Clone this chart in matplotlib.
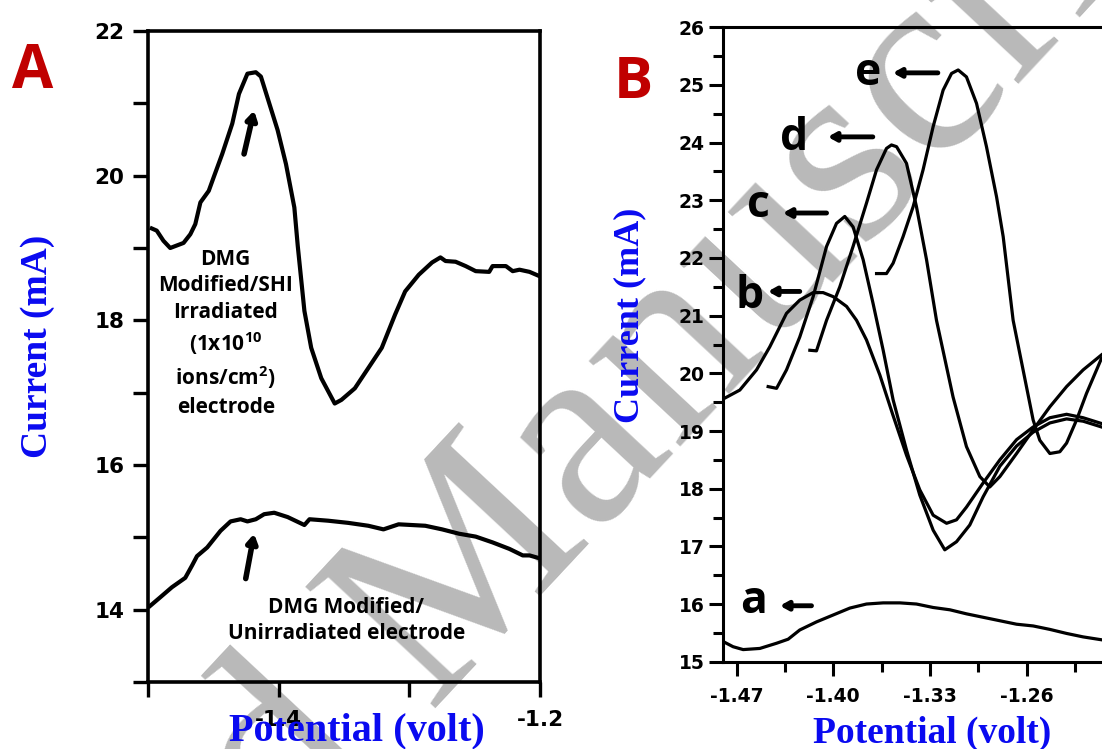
import matplotlib
matplotlib.use("Agg")
import matplotlib.pyplot as plt
from matplotlib.ticker import FixedLocator, NullFormatter

# ---------------- data ----------------
# Panel A: irradiated electrode (upper) and unirradiated electrode (lower)
a_irr_x = [-1.4971, -1.4933, -1.4882, -1.4830, -1.4728, -1.4676, -1.4638, -1.4599, -1.4535,
           -1.4497, -1.4432, -1.4355, -1.4304, -1.4239, -1.4175, -1.4136, -1.4072, -1.4008,
           -1.3944, -1.3880, -1.3854, -1.3803, -1.3751, -1.3674, -1.3571, -1.3520, -1.3417,
           -1.3314, -1.3211, -1.3109, -1.3032, -1.2928, -1.2826, -1.2762, -1.2723, -1.2646,
           -1.2569, -1.2492, -1.2389, -1.2363, -1.2261, -1.2209, -1.2157, -1.2080, -1.2003]
a_irr_y = [19.27, 19.24, 19.10, 19.00, 19.07, 19.19, 19.33, 19.63, 19.79,
           19.98, 20.30, 20.72, 21.13, 21.41, 21.43, 21.37, 21.00, 20.63,
           20.16, 19.56, 19.03, 18.13, 17.62, 17.20, 16.85, 16.90, 17.06,
           17.34, 17.62, 18.08, 18.40, 18.63, 18.80, 18.87, 18.82, 18.81,
           18.75, 18.68, 18.67, 18.75, 18.75, 18.68, 18.70, 18.67, 18.61]
a_unirr_x = [-1.4985, -1.4907, -1.4817, -1.4715, -1.4663, -1.4625, -1.4547, -1.4445, -1.4368,
             -1.4291, -1.4239, -1.4175, -1.4111, -1.4034, -1.3931, -1.3803, -1.3764, -1.3622,
             -1.3468, -1.3314, -1.3198, -1.3082, -1.2878, -1.2749, -1.2620, -1.2492, -1.2363,
             -1.2234, -1.2132, -1.2080, -1.2003]
a_unirr_y = [14.05, 14.17, 14.31, 14.44, 14.61, 14.74, 14.86, 15.09, 15.22,
             15.25, 15.22, 15.25, 15.32, 15.34, 15.28, 15.17, 15.25, 15.23,
             15.20, 15.16, 15.11, 15.18, 15.16, 15.11, 15.05, 15.01, 14.93,
             14.84, 14.75, 14.75, 14.71]

# Panel B: curves a-e
b_a_x = [-1.4797, -1.4725, -1.4652, -1.4531, -1.4410, -1.4326, -1.4242, -1.4121, -1.4000,
         -1.3879, -1.3759, -1.3638, -1.3517, -1.3397, -1.3276, -1.3155, -1.3035, -1.2914,
         -1.2793, -1.2672, -1.2552, -1.2431, -1.2310, -1.2190, -1.2057]
b_a_y = [15.35, 15.26, 15.21, 15.23, 15.32, 15.39, 15.55, 15.69, 15.81,
         15.93, 16.00, 16.02, 16.02, 16.00, 15.94, 15.90, 15.83, 15.77,
         15.71, 15.65, 15.62, 15.56, 15.49, 15.43, 15.38]
b_b_x = [-1.4785, -1.4676, -1.4555, -1.4459, -1.4338, -1.4242, -1.4145, -1.4073, -1.4000,
         -1.3903, -1.3831, -1.3759, -1.3662, -1.3568, -1.3469, -1.3373, -1.3276, -1.3179,
         -1.3107, -1.3035, -1.2914, -1.2793, -1.2672, -1.2552, -1.2431, -1.2310, -1.2190,
         -1.2057]
b_b_y = [19.57, 19.71, 20.06, 20.46, 21.04, 21.27, 21.40, 21.40, 21.33,
         21.16, 20.92, 20.58, 19.97, 19.28, 18.58, 17.98, 17.54, 17.40,
         17.46, 17.68, 18.10, 18.50, 18.85, 19.07, 19.23, 19.29, 19.23,
         19.13]
b_c_x = [-1.4471, -1.4410, -1.4338, -1.4242, -1.4145, -1.4048, -1.3976, -1.3916, -1.3856,
         -1.3783, -1.3711, -1.3638, -1.3566, -1.3469, -1.3373, -1.3276, -1.3192, -1.3107,
         -1.3011, -1.2914, -1.2793, -1.2672, -1.2552, -1.2431, -1.2310, -1.2190, -1.2057]
b_c_y = [19.77, 19.74, 20.06, 20.63, 21.33, 22.20, 22.60, 22.72, 22.54,
         21.97, 21.21, 20.40, 19.54, 18.67, 17.89, 17.28, 16.94, 17.08,
         17.37, 17.86, 18.39, 18.74, 18.98, 19.14, 19.21, 19.17, 19.07]
b_d_x = [-1.4169, -1.4121, -1.4048, -1.3952, -1.3856, -1.3759, -1.3686, -1.3614, -1.3578,
         -1.3541, -1.3469, -1.3397, -1.3324, -1.3252, -1.3132, -1.3035, -1.2938, -1.2866,
         -1.2793, -1.2672, -1.2552, -1.2431, -1.2310, -1.2190, -1.2057]
b_d_y = [20.40, 20.39, 20.92, 21.50, 22.20, 22.95, 23.53, 23.90, 23.96,
         23.93, 23.64, 22.89, 21.97, 20.92, 19.59, 18.73, 18.21, 18.03,
         18.21, 18.61, 19.02, 19.42, 19.77, 20.06, 20.32]
b_e_x = [-1.3686, -1.3614, -1.3566, -1.3494, -1.3421, -1.3349, -1.3276, -1.3204, -1.3143,
         -1.3095, -1.3035, -1.2962, -1.2890, -1.2817, -1.2769, -1.2697, -1.2552, -1.2504,
         -1.2431, -1.2359, -1.2310, -1.2238, -1.2166, -1.2057]
b_e_y = [21.73, 21.73, 21.91, 22.37, 22.89, 23.53, 24.28, 24.91, 25.20,
         25.26, 25.14, 24.68, 23.93, 23.06, 22.37, 20.92, 19.19, 18.84,
         18.61, 18.64, 18.79, 19.19, 19.65, 20.26]

# ticks
a_xticks_major = [-1.4, -1.2]
a_xtick_labels = ["-1.4", "-1.2"]
a_xticks_minor = [-1.5, -1.3]
a_yticks_major = [14, 16, 18, 20, 22]
a_ytick_labels = ["14", "16", "18", "20", "22"]
a_yticks_minor = [13, 15, 17, 19, 21]
b_xticks_major = [-1.47, -1.40, -1.33, -1.26]
b_xtick_labels = ["-1.47", "-1.40", "-1.33", "-1.26"]
b_xticks_minor = [-1.435, -1.365, -1.295, -1.225]
b_yticks_major = [15, 16, 17, 18, 19, 20, 21, 22, 23, 24, 25, 26]
b_ytick_labels = ["15", "16", "17", "18", "19", "20", "21", "22", "23", "24", "25", "26"]
b_yticks_minor = [15.5, 16.5, 17.5, 18.5, 19.5, 20.5, 21.5, 22.5, 23.5, 24.5, 25.5]

# curve labels for panel B
b_letters = ["a", "b", "c", "d", "e"]

# ---------------- style ----------------
plt.rcParams['mathtext.fontset'] = 'custom'
plt.rcParams['mathtext.rm'] = 'Open Sans:bold'
plt.rcParams['mathtext.bf'] = 'Open Sans:bold'
plt.rcParams['mathtext.it'] = 'Open Sans:bold'

W, H = 1102, 749
fig = plt.figure(figsize=(W / 100, H / 100), dpi=100)
fig.patch.set_facecolor('white')

def px_box(left, top, width, height):
    return [left / W, 1 - (top + height) / H, width / W, height / H]

BLUE = '#0a0af0'
RED = '#c00000'
serif = 'Liberation Serif'
tickfont = 'DejaVu Sans'
annot = 'Open Sans'

# ---------------- watermark (behind everything) ----------------
WM_ANGLE = 47
fig.text(428 / W, 1 - 708 / H, 'Manuscript', fontfamily=serif, fontsize=195,
         color='#b9b9b9', rotation=WM_ANGLE, rotation_mode='anchor',
         ha='left', va='baseline', zorder=-5)
fig.text(380 / W, 1 - 756 / H, 'Accepted', fontfamily=serif, fontsize=195,
         color='#b9b9b9', rotation=WM_ANGLE, rotation_mode='anchor',
         ha='right', va='baseline', zorder=-5)

# ---------------- Panel A ----------------
axA = fig.add_axes(px_box(148, 31, 392, 651))
axA.set_facecolor('none')
axA.plot(a_irr_x, a_irr_y, color='black', lw=3.0, solid_joinstyle='round', zorder=3)
axA.plot(a_unirr_x, a_unirr_y, color='black', lw=3.0, solid_joinstyle='round', zorder=3)
axA.set_xlim(-1.5, -1.2)
axA.set_ylim(13, 22)
axA.xaxis.set_major_locator(FixedLocator(a_xticks_major))
axA.xaxis.set_minor_locator(FixedLocator(a_xticks_minor))
axA.set_xticklabels(a_xtick_labels)
axA.yaxis.set_major_locator(FixedLocator(a_yticks_major))
axA.yaxis.set_minor_locator(FixedLocator(a_yticks_minor))
axA.set_yticklabels(a_ytick_labels)
axA.xaxis.set_minor_formatter(NullFormatter())
axA.yaxis.set_minor_formatter(NullFormatter())
axA.tick_params(which='both', direction='out', length=11, width=2.4, color='black')
axA.tick_params(axis='x', which='major', pad=9)
axA.tick_params(axis='y', which='major', pad=6)
for lab in axA.get_xticklabels() + axA.get_yticklabels():
    lab.set_fontfamily(tickfont)
    lab.set_fontweight('bold')
    lab.set_fontsize(15.5)
for sp in axA.spines.values():
    sp.set_linewidth(2.6)

axA.set_xlabel('Potential (volt)', fontfamily=serif, fontweight='bold', fontsize=29,
               color=BLUE, va='baseline')
axA.xaxis.set_label_coords(0.534, -0.089)
axA.set_ylabel('Current (mA)', fontfamily=serif, fontweight='bold', fontsize=27,
               color=BLUE, va='center')
axA.yaxis.set_label_coords(-0.283, 0.516)

axA.text(-1.4405, 17.82,
         'DMG\nModified/SHI\nIrradiated\n(1x10$^{10}$\nions/cm$^{2}$)\nelectrode',
         ha='center', va='center', fontfamily=annot, fontweight='bold', fontsize=15,
         linespacing=1.35, zorder=4)
axA.text(-1.3483, 13.85, 'DMG Modified/\nUnirradiated electrode',
         ha='center', va='center', fontfamily=annot, fontweight='bold', fontsize=15,
         linespacing=1.3, zorder=4)
arrow_kw = dict(arrowstyle='-|>,head_length=0.5,head_width=0.3', color='black', lw=4,
                shrinkA=0, shrinkB=0)
axA.annotate('', xy=(-1.4188, 20.90), xytext=(-1.4265, 20.30), arrowprops=arrow_kw)
axA.annotate('', xy=(-1.4188, 15.05), xytext=(-1.4252, 14.43), arrowprops=arrow_kw)

# ---------------- Panel B ----------------
axB = fig.add_axes(px_box(722.7, 27.3, 400.5, 634.4))
axB.set_facecolor('none')
for xs, ys in [(b_a_x, b_a_y), (b_b_x, b_b_y), (b_c_x, b_c_y), (b_d_x, b_d_y), (b_e_x, b_e_y)]:
    axB.plot(xs, ys, color='black', lw=2.3, solid_joinstyle='round', zorder=3)
axB.set_xlim(-1.48, -1.19)
axB.set_ylim(15, 26)
axB.xaxis.set_major_locator(FixedLocator(b_xticks_major))
axB.xaxis.set_minor_locator(FixedLocator(b_xticks_minor))
axB.set_xticklabels(b_xtick_labels)
axB.yaxis.set_major_locator(FixedLocator(b_yticks_major))
axB.yaxis.set_minor_locator(FixedLocator(b_yticks_minor))
axB.set_yticklabels(b_ytick_labels)
axB.xaxis.set_minor_formatter(NullFormatter())
axB.yaxis.set_minor_formatter(NullFormatter())
axB.tick_params(which='major', direction='out', length=10, width=2.2, color='black')
axB.tick_params(which='minor', direction='out', length=7, width=2.2, color='black')
axB.tick_params(axis='x', which='major', pad=8)
axB.tick_params(axis='y', which='major', pad=3)
for lab in axB.get_xticklabels() + axB.get_yticklabels():
    lab.set_fontfamily(tickfont)
    lab.set_fontweight('bold')
    lab.set_fontsize(13.5)
for sp in axB.spines.values():
    sp.set_linewidth(2.2)

axB.set_xlabel('Potential (volt)', fontfamily=serif, fontweight='bold', fontsize=27,
               color=BLUE, va='baseline')
axB.xaxis.set_label_coords(0.5219, -0.128)
axB.set_ylabel('Current (mA)', fontfamily=serif, fontweight='bold', fontsize=26,
               color=BLUE, va='center')
axB.yaxis.set_label_coords(-0.2315, 0.5465)

letter_pos = {'a': (-1.4575, 15.84), 'b': (-1.4604, 21.13), 'c': (-1.4539, 22.71),
              'd': (-1.4285, 23.87), 'e': (-1.3749, 25.00)}
arrow_pos = {'a': ((-1.4157, 15.97), (-1.4386, 15.97)),
             'b': ((-1.4242, 21.42), (-1.4473, 21.42)),
             'c': ((-1.4048, 22.78), (-1.4365, 22.78)),
             'd': ((-1.3713, 24.10), (-1.4039, 24.10)),
             'e': ((-1.3242, 25.21), (-1.3568, 25.21))}
arrow_kw_b = dict(arrowstyle='-|>,head_length=0.45,head_width=0.25', color='black', lw=3.5,
                  shrinkA=0, shrinkB=0)
for lt in b_letters:
    x, y = letter_pos[lt]
    axB.text(x, y, lt, ha='center', va='baseline', fontfamily=annot, fontweight='bold',
             fontsize=32, zorder=4)
    tail, head = arrow_pos[lt]
    axB.annotate('', xy=head, xytext=tail, arrowprops=arrow_kw_b)

# panel letters
fig.text(12 / W, 1 - 88 / H, 'A', color=RED, fontfamily=annot, fontweight='bold',
         fontsize=43, ha='left', va='baseline')
fig.text(614 / W, 1 - 98 / H, 'B', color=RED, fontfamily=annot, fontweight='bold',
         fontsize=42, ha='left', va='baseline')

fig.savefig('out.png', dpi=100, facecolor='white')
